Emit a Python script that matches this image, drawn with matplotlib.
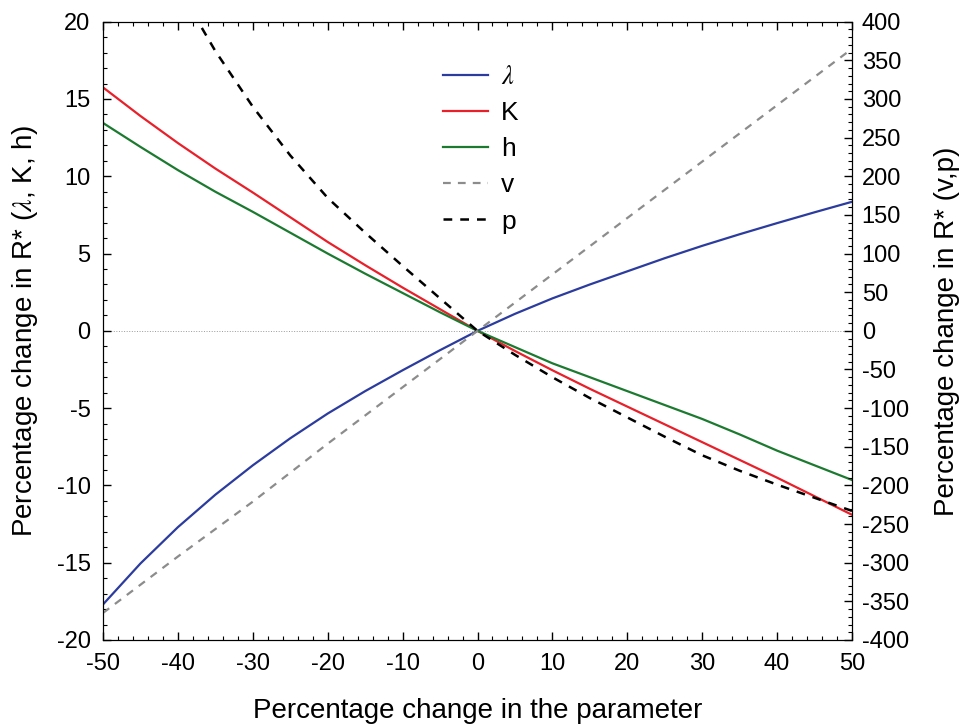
import matplotlib
matplotlib.use("Agg")
import matplotlib.pyplot as plt
from matplotlib.ticker import MultipleLocator

plt.rcParams['font.family'] = ['Liberation Sans', 'DejaVu Sans']
plt.rcParams['mathtext.fontset'] = 'stix'
plt.rcParams['axes.unicode_minus'] = False

## data
pct = [-50, -45, -40, -35, -30, -25, -20, -15, -10, -5, 0,
       5, 10, 15, 20, 25, 30, 35, 40, 45, 50]
lam = [-17.7, -15.05, -12.7, -10.6, -8.7, -6.95, -5.35, -3.9, -2.55, -1.25, 0,
       1.1, 2.1, 3.0, 3.85, 4.7, 5.5, 6.25, 6.97, 7.67, 8.35]
K = [15.75, 13.9, 12.15, 10.5, 8.95, 7.35, 5.75, 4.25, 2.8, 1.4, 0,
     -1.3, -2.55, -3.75, -4.9, -6.05, -7.2, -8.35, -9.5, -10.7, -11.9]
h = [13.45, 11.9, 10.4, 9.0, 7.7, 6.35, 5.0, 3.7, 2.45, 1.2, 0,
     -1.05, -2.1, -3.0, -3.9, -4.8, -5.7, -6.7, -7.75, -8.7, -9.65]

pct_v = [-50, -40, -30, -20, -10, 0, 10, 20, 30, 40, 50]
v = [-365, -292, -221, -146, -73, 0, 73, 146, 219, 292, 365]

pct_p = [-40, -35, -30, -25, -20, -15, -10, -5, 0,
         5, 10, 15, 20, 25, 30, 35, 40, 45, 50]
p = [445, 362, 290, 227, 172, 127, 84, 42, 0,
     -31, -60, -87, -112, -137, -161, -181, -199, -216, -233]

fig = plt.figure(figsize=(9.63, 7.28), dpi=100)
ax = fig.add_axes([103/963, 1-640/728, 749/963, 618.3/728])
ax2 = ax.twinx()

ax.axhline(0, color='#9a9a9a', lw=0.7, ls=':', zorder=1)

l_lam, = ax.plot(pct, lam, color='#2b3c9e', lw=1.6)
l_K, = ax.plot(pct, K, color='#e8202a', lw=1.6)
l_h, = ax.plot(pct, h, color='#1c7a30', lw=1.6)
l_v, = ax2.plot(pct_v, v, color='#8c8c8c', lw=1.6, dashes=(3.5, 3.2))
l_p, = ax2.plot(pct_p, p, color='black', lw=1.8, dashes=(3.5, 3.2))

ax.set_xlim(-50, 50)
ax.set_ylim(-20, 20)
ax2.set_ylim(-400, 400)

ax.xaxis.set_major_locator(MultipleLocator(10))
ax.xaxis.set_minor_locator(MultipleLocator(2))
ax.yaxis.set_major_locator(MultipleLocator(5))
ax.yaxis.set_minor_locator(MultipleLocator(1))
ax2.yaxis.set_major_locator(MultipleLocator(50))
ax2.yaxis.set_minor_locator(MultipleLocator(10))

ax.tick_params(which='both', direction='in', top=True, right=False,
               labelsize=17, pad=9)
ax.tick_params(which='major', length=6, width=1)
ax.tick_params(which='minor', length=3, width=0.8)
ax2.tick_params(which='both', direction='in', labelsize=17, pad=7)
ax2.tick_params(which='major', length=6, width=1)
ax2.tick_params(which='minor', length=3, width=0.8)

ax.set_xlabel('Percentage change in the parameter', fontsize=20)
ax.xaxis.set_label_coords(0.5, -0.094)
ax.set_ylabel(r'Percentage change in R* ($\lambda$, K, h)', fontsize=20)
ax.yaxis.set_label_coords(-0.084, 0.5)
ax2.set_ylabel('Percentage change in R* (v,p)', fontsize=20)
ax2.yaxis.set_label_coords(1.11, 0.5)

handles = [l_lam, l_K, l_h, l_v, l_p]
labels = [r'$\lambda$', 'K', 'h', 'v', 'p']
ax.legend(handles, labels, loc='upper left', bbox_to_anchor=(0.454, 0.93),
          frameon=False, fontsize=19, borderpad=0, borderaxespad=0,
          handlelength=1.7, handletextpad=0.5, labelspacing=0.46)

fig.savefig('out.png', dpi=100)
